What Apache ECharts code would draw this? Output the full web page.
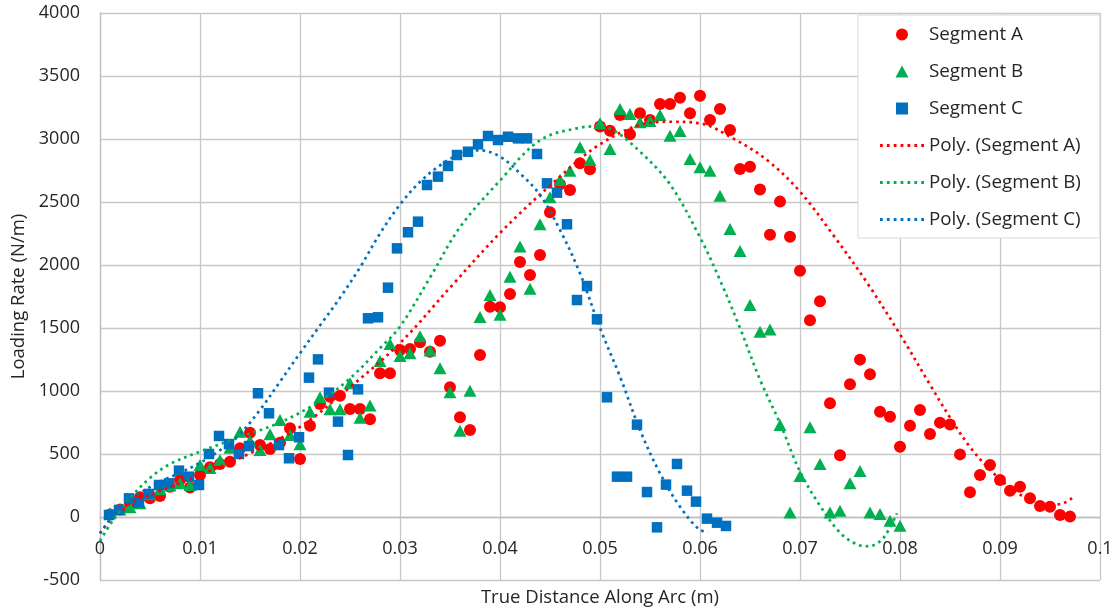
<!DOCTYPE html>
<html>
<head>
<meta charset="utf-8">
<title>Loading Rate along arc</title>
<script src="https://cdn.jsdelivr.net/npm/echarts@6.0.0/dist/echarts.min.js"></script>
<style>
html, body { margin: 0; padding: 0; background: #fff; }
#mainChart { width: 1120px; height: 613px; }
</style>
</head>
<body>
<div id="mainChart"></div>
<script>
// measured points, Segment A (red circles)
var segAX = [0.001, 0.002, 0.003, 0.004, 0.005, 0.006, 0.007, 0.008, 0.009, 0.010,
  0.011, 0.012, 0.013, 0.014, 0.015, 0.016, 0.017, 0.018, 0.019, 0.020,
  0.021, 0.022, 0.023, 0.024, 0.025, 0.026, 0.027, 0.028, 0.029, 0.030,
  0.031, 0.032, 0.033, 0.034, 0.035, 0.036, 0.037, 0.038, 0.039, 0.040,
  0.041, 0.042, 0.043, 0.044, 0.045, 0.046, 0.047, 0.048, 0.049, 0.050,
  0.051, 0.052, 0.053, 0.054, 0.055, 0.056, 0.057, 0.058, 0.059, 0.060,
  0.061, 0.062, 0.063, 0.064, 0.065, 0.066, 0.067, 0.068, 0.069, 0.070,
  0.071, 0.072, 0.073, 0.074, 0.075, 0.076, 0.077, 0.078, 0.079, 0.080,
  0.081, 0.082, 0.083, 0.084, 0.085, 0.086, 0.087, 0.088, 0.089, 0.090,
  0.091, 0.092, 0.093, 0.094, 0.095, 0.096, 0.097];
var segAY = [20, 60, 110, 156, 148, 167, 240, 294, 235, 333,
  394, 420, 439, 545, 669, 571, 540, 590, 704, 460,
  725, 897, 955, 963, 857, 857, 775, 1140, 1140, 1325,
  1333, 1386, 1312, 1399, 1029, 791, 690, 1286, 1669, 1664,
  1770, 2024, 1921, 2079, 2418, 2640, 2595, 2807, 2760, 3100,
  3066, 3190, 3037, 3204, 3150, 3278, 3278, 3328, 3204, 3344,
  3151, 3238, 3071, 2762, 2780, 2600, 2241, 2503, 2225, 1955,
  1561, 1712, 902, 490, 1053, 1249, 1132, 836, 796, 558,
  725, 849, 659, 749, 735, 497, 196, 333, 413, 294,
  209, 241, 148, 87, 82, 16, 3];

// Segment B (green triangles)
var segBX = [0.001, 0.002, 0.003, 0.004, 0.005, 0.006, 0.007, 0.008, 0.009, 0.010,
  0.011, 0.012, 0.013, 0.014, 0.015, 0.016, 0.017, 0.018, 0.019, 0.020,
  0.021, 0.022, 0.023, 0.024, 0.025, 0.026, 0.027, 0.028, 0.029, 0.030,
  0.031, 0.032, 0.033, 0.034, 0.035, 0.036, 0.037, 0.038, 0.039, 0.040,
  0.041, 0.042, 0.043, 0.044, 0.045, 0.046, 0.047, 0.048, 0.049, 0.050,
  0.051, 0.052, 0.053, 0.054, 0.055, 0.056, 0.057, 0.058, 0.059, 0.060,
  0.061, 0.062, 0.063, 0.064, 0.065, 0.066, 0.067, 0.068, 0.069, 0.070,
  0.071, 0.072, 0.073, 0.074, 0.075, 0.076, 0.077, 0.078, 0.079, 0.080];
var segBY = [30, 60, 77, 110, 180, 220, 250, 267, 254, 413,
  389, 452, 550, 677, 606, 532, 656, 770, 651, 577,
  836, 950, 855, 855, 1061, 788, 884, 1238, 1373, 1278,
  1299, 1435, 1322, 1180, 990, 685, 1002, 1588, 1762, 1606,
  1907, 2146, 1812, 2324, 2537, 2675, 2748, 2934, 2833, 3125,
  2921, 3238, 3198, 3132, 3143, 3190, 3026, 3063, 2841, 2775,
  2748, 2550, 2285, 2112, 1683, 1471, 1489, 730, 35, 325,
  712, 420, 35, 50, 267, 365, 35, 24, -29, -69];

// Segment C (blue squares)
var segCX = [0.0009, 0.0019, 0.0029, 0.0039, 0.0049, 0.0059, 0.0069, 0.0079, 0.0089, 0.0099,
  0.0109, 0.0119, 0.0129, 0.0139, 0.0149, 0.0158, 0.0169, 0.0179, 0.0189, 0.0199,
  0.0209, 0.0218, 0.0229, 0.0238, 0.0248, 0.0258, 0.0268, 0.0278, 0.0288, 0.0297,
  0.0308, 0.0318, 0.0327, 0.0338, 0.0348, 0.0357, 0.0368, 0.0378, 0.0388, 0.0398,
  0.0408, 0.0418, 0.0427, 0.0437, 0.0447, 0.0457, 0.0467, 0.0477, 0.0487, 0.0497,
  0.0507, 0.0517, 0.0527, 0.0537, 0.0547, 0.0557, 0.0566, 0.0577, 0.0587, 0.0596,
  0.0607, 0.0617, 0.0626];
var segCY = [16, 56, 148, 113, 183, 254, 267, 368, 320, 254,
  500, 643, 579, 500, 563, 982, 823, 571, 466, 633,
  1106, 1251, 987, 757, 492, 1013, 1577, 1585, 1820, 2132,
  2260, 2344, 2635, 2701, 2786, 2873, 2899, 2958, 3024, 2992,
  3018, 3005, 3005, 2881, 2648, 2574, 2323, 1722, 1833, 1569,
  950, 320, 320, 733, 198, -82, 257, 421, 209, 122,
  -13, -45, -71];

// polynomial trendlines
var trendAX = [0, 0.001, 0.002, 0.0033, 0.005, 0.0067, 0.0083, 0.010, 0.015, 0.020, 0.025, 0.030,
  0.035, 0.040, 0.045, 0.050, 0.055, 0.057, 0.060, 0.0633, 0.0667, 0.070, 0.0733, 0.0767,
  0.080, 0.083, 0.085, 0.087, 0.089, 0.091, 0.093, 0.095, 0.0965, 0.0972];
var trendAY = [-130, -24, 56, 121, 175, 228, 280, 333, 505, 715, 1030, 1380,
  1820, 2254, 2630, 2958, 3129, 3137, 3124, 3005, 2833, 2582, 2240, 1860,
  1450, 1050, 790, 555, 375, 235, 135, 92, 115, 150];

var trendBX = [0, 0.001, 0.002, 0.003, 0.005, 0.007, 0.010, 0.014, 0.018, 0.022, 0.025, 0.028,
  0.030, 0.033, 0.036, 0.040, 0.044, 0.048, 0.0497, 0.0513, 0.054, 0.057, 0.060, 0.062,
  0.064, 0.066, 0.068, 0.070, 0.072, 0.074, 0.0755, 0.0765, 0.0775, 0.0785, 0.0797];
var trendBY = [-190, -60, 50, 150, 310, 420, 519, 635, 750, 920, 1100, 1340,
  1511, 1900, 2300, 2670, 2990, 3090, 3100, 3071, 2900, 2640, 2220, 1880,
  1500, 1090, 744, 360, 90, -125, -210, -232, -220, -150, 29];

var trendCX = [0, 0.001, 0.002, 0.004, 0.006, 0.008, 0.010, 0.012, 0.014, 0.016, 0.018, 0.020,
  0.022, 0.024, 0.026, 0.028, 0.030, 0.032, 0.034, 0.036, 0.038, 0.040, 0.042, 0.044,
  0.046, 0.048, 0.050, 0.052, 0.054, 0.056, 0.058, 0.060, 0.0608];
var trendCY = [-130, -20, 70, 190, 280, 350, 430, 530, 660, 850, 1074, 1300,
  1520, 1740, 1980, 2250, 2480, 2660, 2790, 2880, 2910, 2860, 2727, 2556,
  2278, 1934, 1500, 1114, 690, 347, 82, -103, -116];

var red = '#ff0000', green = '#00b050', blue = '#0070c0';
var font = 'Open Sans';
var dotIcon = 'path://M0,0h2.7v2.7h-2.7z M6.7,0h2.7v2.7h-2.7z M13.4,0h2.7v2.7h-2.7z M20.1,0h2.7v2.7h-2.7z' +
  ' M26.8,0h2.7v2.7h-2.7z M33.5,0h2.7v2.7h-2.7z M40.2,0h2.7v2.7h-2.7z';

function pairs(xs, ys) {
  var out = [];
  for (var i = 0; i < xs.length; i++) {
    out.push([xs[i], ys[i]]);
  }
  return out;
}

function trendSeries(name, xs, ys, color) {
  return {
    name: name,
    type: 'line',
    data: pairs(xs, ys),
    smooth: 0.35,
    symbol: 'none',
    z: 5,
    lineStyle: { color: color, width: 2.7, type: [2.7, 4], cap: 'butt' },
    itemStyle: { color: color }
  };
}

var dom = document.getElementById('mainChart');
var myChart = echarts.init(dom);

var option = {
  animation: false,
  backgroundColor: '#fff',
  grid: { left: 100, right: 20, top: 13, bottom: 33 },
  legend: {
    orient: 'vertical',
    left: 858,
    top: 15,
    padding: [10, 19, 9, 22],
    itemWidth: 44,
    itemHeight: 12,
    itemGap: 18,
    borderColor: '#d9d9d9',
    borderWidth: 1,
    backgroundColor: '#fff',
    textStyle: { fontFamily: font, fontSize: 18.8, color: '#262626' },
    data: [
      { name: 'Segment A', icon: 'circle' },
      { name: 'Segment B', icon: 'path://M0,11L6,0L12,11Z' },
      { name: 'Segment C', icon: 'path://M0,0L10,0L10,10L0,10Z' },
      { name: 'Poly. (Segment A)', icon: dotIcon },
      { name: 'Poly. (Segment B)', icon: dotIcon },
      { name: 'Poly. (Segment C)', icon: dotIcon }
    ]
  },
  xAxis: {
    type: 'value',
    min: 0,
    max: 0.1,
    interval: 0.01,
    offset: -63, // axis crosses at y = 0
    axisLine: { onZero: false, lineStyle: { color: '#bfbfbf', width: 1.3 } },
    axisTick: { show: false },
    axisLabel: { fontFamily: font, fontSize: 18, color: '#262626', margin: 23 },
    splitLine: { lineStyle: { color: '#c8c8c8', width: 1.3 } }
  },
  yAxis: {
    type: 'value',
    min: -500,
    max: 4000,
    interval: 500,
    name: 'Loading Rate (N/m)',
    nameLocation: 'middle',
    nameGap: 70,
    nameTextStyle: { fontFamily: font, fontSize: 18.5, color: '#262626' },
    axisLine: { show: true, lineStyle: { color: '#bfbfbf', width: 1.3 } },
    axisTick: { show: false },
    axisLabel: {
      fontFamily: font, fontSize: 18, color: '#262626', margin: 20,
      formatter: function (v) { return String(v); }
    },
    splitLine: { lineStyle: { color: '#c8c8c8', width: 1.3 } }
  },
  graphic: [{
    type: 'text',
    x: 600,
    y: 598,
    style: {
      text: 'True Distance Along Arc (m)',
      font: '18.5px "Open Sans"',
      fill: '#262626',
      align: 'center',
      verticalAlign: 'middle'
    }
  }],
  series: [
    {
      name: 'Segment A', type: 'scatter', data: pairs(segAX, segAY),
      symbol: 'circle', symbolSize: 12, itemStyle: { color: red, opacity: 1 }
    },
    {
      name: 'Segment B', type: 'scatter', data: pairs(segBX, segBY),
      symbol: 'triangle', symbolSize: [13, 12], itemStyle: { color: green, opacity: 1 }
    },
    {
      name: 'Segment C', type: 'scatter', data: pairs(segCX, segCY),
      symbol: 'rect', symbolSize: 10.5, itemStyle: { color: blue, opacity: 1 }
    },
    trendSeries('Poly. (Segment A)', trendAX, trendAY, red),
    trendSeries('Poly. (Segment B)', trendBX, trendBY, green),
    trendSeries('Poly. (Segment C)', trendCX, trendCY, blue)
  ]
};

myChart.setOption(option);
</script>
</body>
</html>
